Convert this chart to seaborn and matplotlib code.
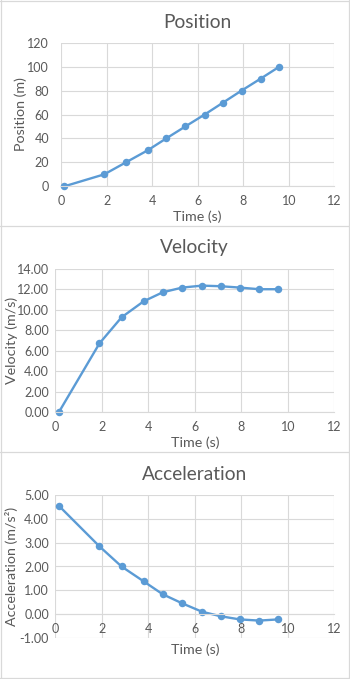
import numpy as np
import pandas as pd
import matplotlib
matplotlib.use("Agg")
import matplotlib.pyplot as plt
import seaborn as sns
from matplotlib.lines import Line2D

# data
time_s = [0.15, 1.90, 2.85, 3.80, 4.62, 5.46, 6.31, 7.12, 7.93, 8.77, 9.59]
position_m = [0, 10, 20, 30, 40, 50, 60, 70, 80, 90, 100]
velocity_ms = [0.0, 6.72, 9.26, 10.82, 11.70, 12.16, 12.35, 12.29, 12.16, 12.00, 12.00]
accel_ms2 = [4.54, 2.84, 2.00, 1.38, 0.84, 0.46, 0.11, -0.08, -0.21, -0.26, -0.21]

titles = ["Position", "Velocity", "Acceleration"]
ylabels = ["Position (m)", "Velocity (m/s)", "Acceleration (m/s\u00b2)"]
yranges = [(0, 120, 20), (0, 14, 2), (-1, 5, 1)]

df = pd.DataFrame({"time": time_s, "position": position_m,
                   "velocity": velocity_ms, "accel": accel_ms2})

sns.set_style("white")
plt.rcParams["font.family"] = ["Lato", "DejaVu Sans"]
plt.rcParams["axes.unicode_minus"] = False

W, H = 350, 679
fig = plt.figure(figsize=(W / 100, H / 100), dpi=100)

blue = "#5b9bd5"
grid_c = "#d9d9d9"
text_c = "#595959"

# plot area boxes in pixels: left, top, right, bottom
boxes = [(61, 42.7, 334.3, 186.3),
         (55.3, 268.7, 334.3, 412.3),
         (55.3, 494.7, 334.3, 638.3)]
ypads = [8.5, 4.5, 4.5]
cols = ["position", "velocity", "accel"]
fmts = ["{:.0f}", "{:.2f}", "{:.2f}"]
title_y = [22, 248, 474]
xlabel_y = [216.5, 442.5, 650]
ylabel_x = [21, 12, 12]

for i in range(3):
    l, t, r, b = boxes[i]
    ax = fig.add_axes([l / W, 1 - b / H, (r - l) / W, (b - t) / H])
    sns.lineplot(data=df, x="time", y=cols[i], ax=ax, color=blue, linewidth=1.7,
                 marker="o", markersize=5.4, markeredgewidth=0, clip_on=False)
    lo, hi, step = yranges[i]
    ax.set_xlim(0, 12)
    ax.set_ylim(lo, hi)
    ax.set_xticks(np.arange(0, 13, 2))
    yt = np.arange(lo, hi + step / 2, step)
    ax.set_yticks(yt)
    ax.set_yticklabels([fmts[i].format(v) for v in yt])
    ax.grid(True, color=grid_c, linewidth=0.8)
    ax.set_axisbelow(True)
    for s in ["top", "right", "left"]:
        ax.spines[s].set_visible(False)
    ax.spines["bottom"].set_color(grid_c)
    ax.spines["bottom"].set_linewidth(0.8)
    ax.spines["bottom"].set_position(("data", 0))
    ax.tick_params(axis="both", length=0, labelsize=9, colors=text_c)
    ax.tick_params(axis="x", pad=6.5)
    ax.tick_params(axis="y", pad=ypads[i])
    ax.set_xlabel("")
    ax.set_ylabel("")
    fig.text((l + r) / 2 / W, 1 - title_y[i] / H, titles[i], ha="center",
             va="center", fontsize=13.8, color=text_c)
    fig.text((l + r) / 2 / W, 1 - xlabel_y[i] / H, "Time (s)", ha="center",
             va="center", fontsize=10.3, color=text_c)
    fig.text(ylabel_x[i] / W, 1 - (t + b) / 2 / H, ylabels[i], ha="center",
             va="center", rotation=90, fontsize=10.3, color=text_c)

# chart borders
for y in [0.5, 226, 452, 678]:
    fig.add_artist(Line2D([0, 1], [1 - y / H, 1 - y / H], color=grid_c, linewidth=0.9))
for x in [0.5, 349]:
    fig.add_artist(Line2D([x / W, x / W], [0, 1], color=grid_c, linewidth=0.9))

fig.savefig("out.png", dpi=100)
